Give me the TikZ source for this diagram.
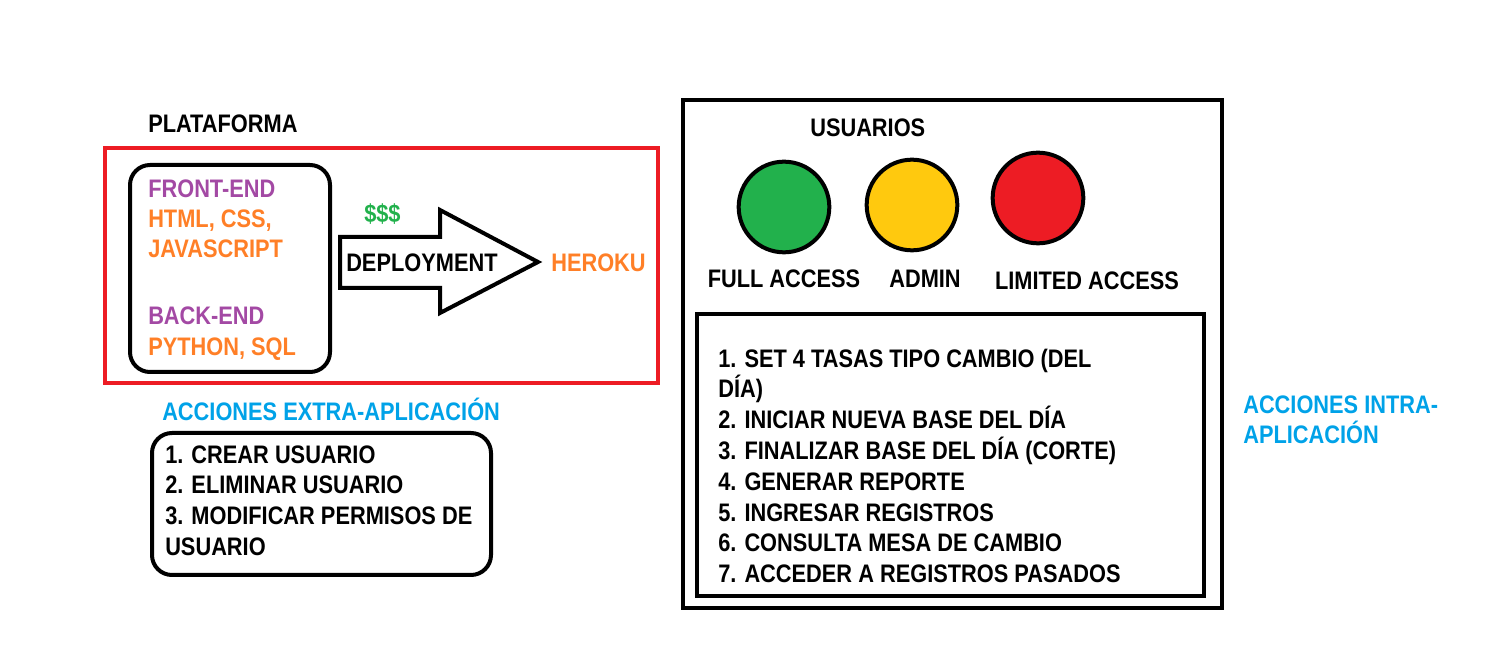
\documentclass[tikz,border=0pt]{standalone}
\usepackage{fontspec}
\setmainfont{Liberation Sans}[FakeStretch=0.86]
\usetikzlibrary{positioning}
\definecolor{boxred}{HTML}{ED1C24}
\definecolor{okgreen}{HTML}{22B14C}
\definecolor{midyellow}{HTML}{FFC90E}
\definecolor{techpurple}{HTML}{A349A4}
\definecolor{techorange}{HTML}{FF7F27}
\definecolor{actblue}{HTML}{00A2E8}
\begin{document}
\begin{tikzpicture}[x=0.75pt, y=-0.75pt,
    font=\bfseries\fontsize{19}{23}\selectfont,
    every node/.style={inner sep=0pt, text height=13.6pt, text depth=0pt},
    txt/.style={anchor=west},
    frame/.style={draw, line width=3pt},
    dot/.style={circle, draw, line width=3pt, minimum size=68pt, text height=, text depth=}]
\useasboundingbox (0,0) rectangle (1504,648);

% plataforma
\node[txt] (plat) at (148,123) {PLATAFORMA};
\draw[frame, boxred] (105,148) rectangle (658,383);
\draw[frame, rounded corners=15pt] (130,165) rectangle (330,372);
\node[txt, techpurple] (front) at (148,188) {FRONT-END};
\node[txt, techorange] (html) at (148,218) {HTML, CSS,};
\node[txt, techorange] (js) at (148,248) {JAVASCRIPT};
\node[txt, techpurple] (back) at (148,315) {BACK-END};
\node[txt, techorange] (py) at (148,346) {PYTHON, SQL};

% deployment
\node[txt, okgreen] (cost) at (364,213) {\$\$\$};
\draw[line width=3pt, line join=miter] (340,237) -- (440,237) -- (440,210) -- (538,262)
    -- (440,313) -- (440,288) -- (340,288) -- cycle;
\node[txt] (deploy) at (346,262) {DEPLOYMENT};
\node[txt, techorange] (heroku) at (551,262) {HEROKU};

% acciones extra
\node[txt, actblue] (extra) at (162,411) {ACCIONES EXTRA-APLICACIÓN};
\draw[frame, rounded corners=15pt] (152,433) rectangle (491,575);
\foreach \line [count=\i] in {1. CREAR USUARIO, 2. ELIMINAR USUARIO,
    3. MODIFICAR PERMISOS DE, USUARIO}
    \node[txt] (ex\i) at (165,{454+30.7*(\i-1)}) {\line};

% usuarios
\draw[frame] (683,100) rectangle (1222,608);
\node[txt] (users) at (810,127) {USUARIOS};
\node[dot, fill=okgreen] (full) at (784,207) {};
\node[dot, fill=midyellow] (admin) at (912,205) {};
\node[dot, fill=boxred] (limited) at (1038,198) {};
\node (fulllbl) at (784,278) {FULL ACCESS};
\node (adminlbl) at (925,278) {ADMIN};
\node (limitedlbl) at (1087,280) {LIMITED ACCESS};

% acciones intra
\draw[frame] (697,314) rectangle (1204,596);
\foreach \line [count=\i] in {1. SET 4 TASAS TIPO CAMBIO (DEL, DÍA), 2. INICIAR NUEVA BASE DEL DÍA,
    3. FINALIZAR BASE DEL DÍA (CORTE), 4. GENERAR REPORTE, 5. INGRESAR REGISTROS,
    6. CONSULTA MESA DE CAMBIO, 7. ACCEDER A REGISTROS PASADOS}
    \node[txt] (in\i) at (718,{358+30.8*(\i-1)}) {\line};
\node[txt, actblue] (intra) at (1243,404) {ACCIONES INTRA-};
\node[txt, actblue] (intra2) at (1243,434) {APLICACIÓN};
\end{tikzpicture}
\end{document}
